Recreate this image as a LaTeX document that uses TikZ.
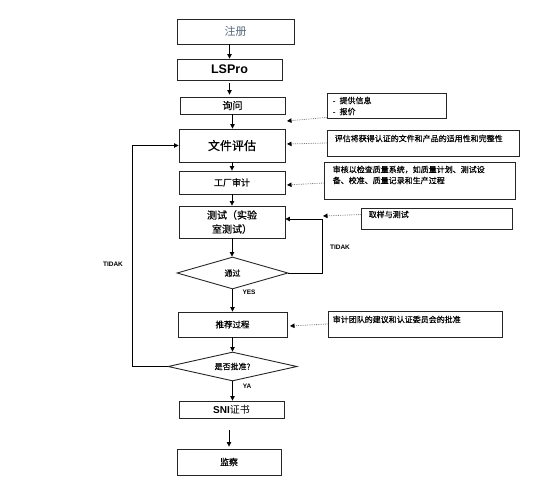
\documentclass[tikz,border=0pt]{standalone}
\usepackage{fontspec}
\setmainfont{Liberation Sans}
\newfontfamily\cjk[FakeBold=0.4]{Noto Sans CJK SC}
\newfontfamily\cjklight{Noto Sans CJK SC}
\usetikzlibrary{arrows.meta,shapes}
\definecolor{regblue}{HTML}{56677A}

\begin{document}
\begin{tikzpicture}[x=1pt, y=-1pt,
    stage/.style={draw=black!85, line width=0.9pt, inner sep=0pt, font=\cjk\fontsize{9}{11}\selectfont},
    check/.style={diamond, aspect=4, draw=black!85, line width=0.9pt, inner sep=0pt, font=\cjk\fontsize{8}{10}\selectfont},
    note/.style={draw=black!85, line width=0.9pt, inner sep=0pt},
    notetext/.style={anchor=north west, inner sep=0pt, align=left, font=\cjk\fontsize{8}{11}\selectfont},
    flow/.style={-{Triangle[length=4.5pt,width=4.5pt]}, line width=0.8pt},
    hint/.style={densely dotted, gray, line width=0.8pt, -{Triangle[length=4.5pt,width=4.5pt,color=black]}},
    tag/.style={font=\bfseries\fontsize{6.5}{8}\selectfont}]
    \useasboundingbox (0,0) rectangle (554,495);
		% main steps
		\node[stage, minimum width=117pt, minimum height=25pt, font=\cjklight\fontsize{11}{13}\selectfont, text=regblue] (reg) at (235.5,31.5) {注册};
		\node[stage, minimum width=105pt, minimum height=21pt, font=\bfseries\fontsize{12.5}{14}\selectfont] (lspro) at (229.5,69.5) {LSPro};
		\node[stage, minimum width=105pt, minimum height=17pt, font=\cjk\fontsize{10}{12}\selectfont] (inquiry) at (232.5,105.5) {询问};
		\node[stage, minimum width=106pt, minimum height=33pt, font=\cjk\fontsize{12}{14}\selectfont] (doceval) at (232,145.5) {文件评估};
		\node[stage, minimum width=106pt, minimum height=23pt] (audit) at (232,182.5) {工厂审计};
		\node[stage, minimum width=106pt, minimum height=32pt, align=center, font=\cjk\fontsize{10}{14}\selectfont] (test) at (232,222) {测试（实验\\室测试）};
		\node[check, minimum width=111pt, minimum height=32pt] (pass) at (232.5,273) {通过};
		\node[stage, minimum width=109pt, minimum height=25pt, font=\cjk\fontsize{8.5}{10}\selectfont] (rec) at (232.5,324.5) {推荐过程};
		\node[check, minimum width=129pt, minimum height=29pt] (approve) at (232.5,366.5) {是否批准?};
		\node[stage, minimum width=105pt, minimum height=17pt] (sni) at (231.5,409.5) {{\rmfamily\bfseries\fontsize{10}{12}\selectfont SNI}{\cjklight\fontsize{10}{12}\selectfont 证书}};
		\node[stage, minimum width=104pt, minimum height=26pt] (surveil) at (229,462) {监察};
		% side notes
		\node[note, minimum width=119pt, minimum height=25pt] (info) at (386.5,105.5) {};
		\node[notetext] at ([shift={(6,4)}]info.north west) {-\hspace{4pt}提供信息\\-\hspace{4pt}报价};
		\node[note, minimum width=192pt, minimum height=26pt] (evalnote) at (423,143) {};
		\node[notetext] at ([shift={(8,5)}]evalnote.north west) {评估将获得认证的文件和产品的适用性和完整性};
		\node[note, minimum width=191pt, minimum height=37pt] (auditnote) at (419.5,180.5) {};
		\node[notetext] at ([shift={(9,4)}]auditnote.north west) {审核以检查质量系统，如质量计划、测试设\\备、校准、质量记录和生产过程};
		\node[note, minimum width=151pt, minimum height=21pt] (samplenote) at (436.5,218.5) {};
		\node[notetext] at ([shift={(8,3)}]samplenote.north west) {取样与测试};
		\node[note, minimum width=174pt, minimum height=26pt] (recnote) at (415,324) {};
		\node[notetext] at ([shift={(5,5)}]recnote.north west) {审计团队的建议和认证委员会的批准};
		% flow
		\draw[flow] (reg.south -| lspro.north) -- (lspro.north);
		\draw[flow, shorten <=3pt, shorten >=2pt] (lspro.south) -- (lspro.south |- inquiry.north);
		\draw[flow] (inquiry.south) -- (inquiry.south |- doceval.north);
		\draw[flow] (doceval.south) -- (audit.north);
		\draw[flow] (audit.south) -- (test.north);
		\draw[flow] (test.south) -- (test.south |- pass.north);
		\draw[flow] (pass.south) -- (pass.south |- rec.north);
		\draw[flow] (rec.south) -- (rec.south |- approve.north);
		\draw[flow] (approve.south) -- (approve.south |- sni.north);
		\draw[flow, shorten <=12pt, shorten >=2pt] (sni.south -| surveil.north) -- (surveil.north);
		% loops
		\coordinate (retest) at (322,219);
		\draw[flow] (pass.east) -| (retest) -- (retest -| test.east);
		\draw[flow] (approve.west) -- ++(-35,0) |- (doceval.west);
		\node[tag] at (340,247) {TIDAK};
		\node[tag] at (113,264) {TIDAK};
		\node[tag] at (249,292) {YES};
		\node[tag] at (247,386) {YA};
		% hints
		\coordinate (infotip) at (287,121);
		\coordinate (evaltip) at (287,144);
		\coordinate (audittip) at (287,185);
		\coordinate (sampletip) at (323,216);
		\coordinate (rectip) at (290,326);
		\draw[hint] ([yshift=1pt]info.south west) -- (infotip);
		\draw[hint] (evalnote.west) -- (evaltip);
		\draw[hint] ([yshift=-2.5pt]auditnote.west) -- (audittip);
		\draw[hint] ([yshift=4pt]samplenote.west) -- (sampletip);
		\draw[hint] (recnote.west) -- (rectip);
	\end{tikzpicture}
\end{document}
